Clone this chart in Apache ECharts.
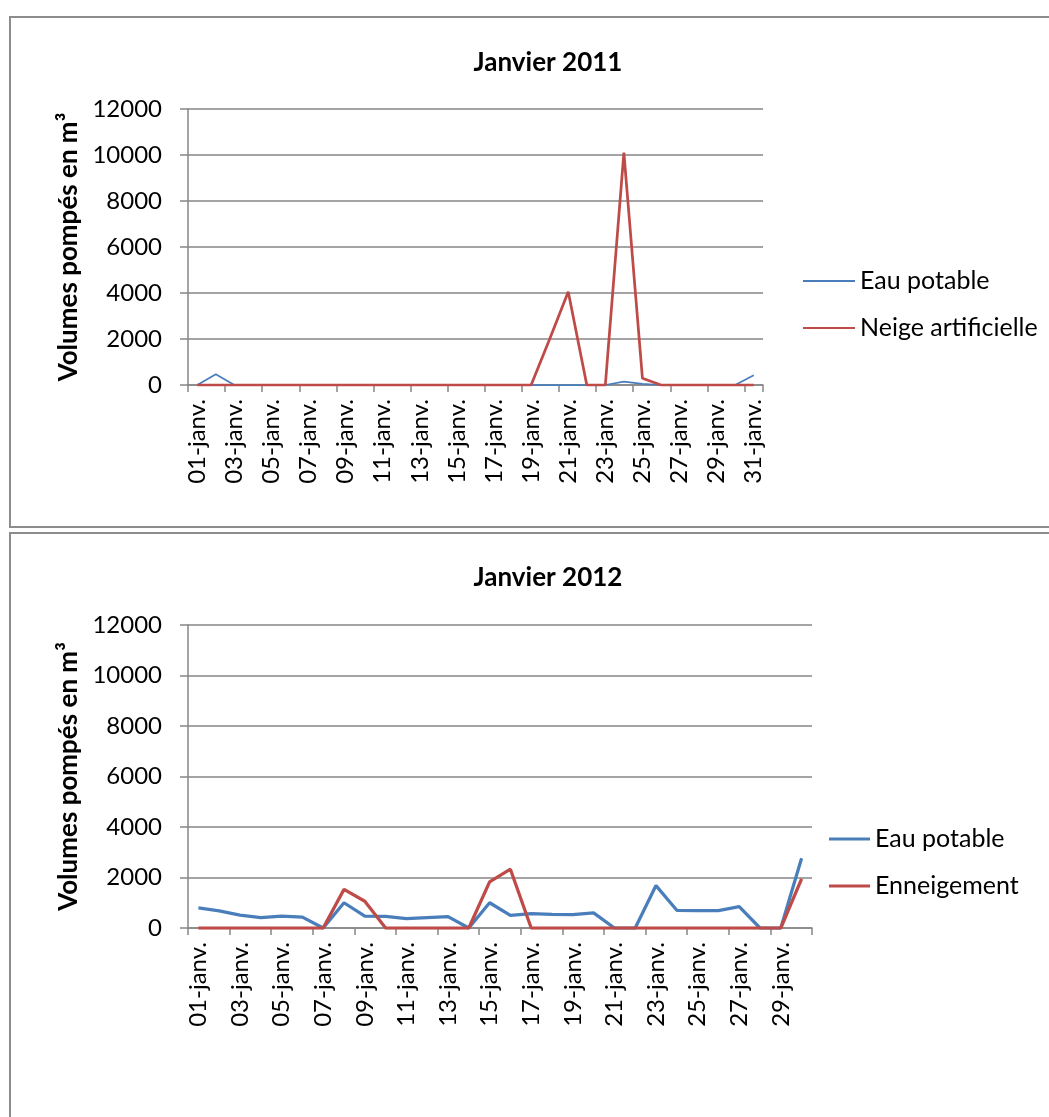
<!DOCTYPE html>
<html>
<head>
<meta charset="utf-8">
<script src="https://cdn.jsdelivr.net/npm/echarts@6/dist/echarts.min.js"></script>
<style>
  html, body { margin: 0; padding: 0; background: #ffffff; }
  #chart { width: 1049px; height: 1117px; }
</style>
</head>
<body>
<div id="chart"></div>
<script>
// Daily pumped volumes (m³), January 2011
const days2011 = ['01-janv.','02-janv.','03-janv.','04-janv.','05-janv.','06-janv.','07-janv.','08-janv.','09-janv.','10-janv.',
  '11-janv.','12-janv.','13-janv.','14-janv.','15-janv.','16-janv.','17-janv.','18-janv.','19-janv.','20-janv.',
  '21-janv.','22-janv.','23-janv.','24-janv.','25-janv.','26-janv.','27-janv.','28-janv.','29-janv.','30-janv.','31-janv.'];
const eauPotable2011 = [0, 470, 0, 0, 0, 0, 0, 0, 0, 0,
  0, 0, 0, 0, 0, 0, 0, 0, 0, 0,
  0, 0, 0, 150, 50, 0, 0, 0, 0, 0, 420];
const neige2011 = [0, 0, 0, 0, 0, 0, 0, 0, 0, 0,
  0, 0, 0, 0, 0, 0, 0, 0, 0, 2000,
  4050, 0, 0, 10100, 290, 0, 0, 0, 0, 0, 0];

// Daily pumped volumes (m³), January 2012
const days2012 = ['01-janv.','02-janv.','03-janv.','04-janv.','05-janv.','06-janv.','07-janv.','08-janv.','09-janv.','10-janv.',
  '11-janv.','12-janv.','13-janv.','14-janv.','15-janv.','16-janv.','17-janv.','18-janv.','19-janv.','20-janv.',
  '21-janv.','22-janv.','23-janv.','24-janv.','25-janv.','26-janv.','27-janv.','28-janv.','29-janv.','30-janv.'];
const eauPotable2012 = [800, 680, 510, 410, 470, 430, 0, 1000, 470, 460,
  370, 410, 450, 0, 1000, 500, 570, 540, 530, 600,
  0, 0, 1680, 700, 690, 690, 850, 0, 0, 2760];
const enneigement2012 = [0, 0, 0, 0, 0, 0, 0, 1530, 1060, 0,
  0, 0, 0, 0, 1830, 2330, 0, 0, 0, 0,
  0, 0, 0, 0, 0, 0, 0, 0, 0, 1950];

const yTicks = { min: 0, max: 12000, interval: 2000 };

const FONT = 'Lato';
const GRAY = '#868686';
const BLUE = '#4A7EBB';
const RED = '#BE4B48';
const AXIS_NAME = 'Volumes pompés en m³';

function xAxisFor(gridIndex, cats) {
  return {
    type: 'category', gridIndex, data: cats, boundaryGap: true,
    axisLine: { lineStyle: { color: GRAY, width: 1.5 } },
    axisTick: { show: true, interval: 1, length: 7, lineStyle: { color: GRAY, width: 1.5 } },
    axisLabel: { interval: 1, rotate: 90, margin: 14, color: '#000', fontFamily: FONT, fontSize: 24 },
    splitLine: { show: false }
  };
}
function yAxisFor(gridIndex) {
  return {
    type: 'value', gridIndex, min: yTicks.min, max: yTicks.max, interval: yTicks.interval,
    name: AXIS_NAME, nameLocation: 'middle', nameRotate: 90, nameGap: 60,
    nameTextStyle: { color: '#000', fontFamily: FONT, fontSize: 26, fontWeight: 'bold' },
    axisLine: { show: true, lineStyle: { color: GRAY, width: 1.5 } },
    axisTick: { show: true, length: 8, lineStyle: { color: GRAY, width: 1.5 } },
    axisLabel: { margin: 26, color: '#000', fontFamily: FONT, fontSize: 24,
      formatter: v => String(v) },
    splitLine: { show: true, lineStyle: { color: GRAY, width: 1.5 } }
  };
}
function lineSeries(name, data, color, width, idx) {
  return {
    type: 'line', name, data, xAxisIndex: idx, yAxisIndex: idx,
    symbol: 'none', showSymbol: false, animation: false,
    lineStyle: { color, width }, itemStyle: { color }
  };
}

const chart = echarts.init(document.getElementById('chart'), null, { renderer: 'canvas' });
chart.setOption({
  animation: false,
  backgroundColor: '#ffffff',
  graphic: [
    { type: 'rect', shape: { x: 10, y: 17, width: 1100, height: 510 }, style: { fill: 'none', stroke: '#8c8c8c', lineWidth: 2 } },
    { type: 'rect', shape: { x: 10, y: 533, width: 1100, height: 700 }, style: { fill: 'none', stroke: '#8c8c8c', lineWidth: 2 } }
  ],
  title: [
    { text: 'Janvier 2011', left: 543, top: 45, textAlign: 'center',
      textStyle: { fontFamily: FONT, fontSize: 26, fontWeight: 'bold', color: '#000' } },
    { text: 'Janvier 2012', left: 543, top: 560, textAlign: 'center',
      textStyle: { fontFamily: FONT, fontSize: 26, fontWeight: 'bold', color: '#000' } }
  ],
  legend: [
    { orient: 'vertical', left: 803, top: 268, padding: 0, itemWidth: 52, itemHeight: 2, itemGap: 21, icon: 'rect',
      textStyle: { fontFamily: FONT, fontSize: 25, color: '#000', lineHeight: 26 },
      data: ['Eau potable', 'Neige artificielle'] },
    { orient: 'vertical', left: 829, top: 826, padding: 0, itemWidth: 41, itemHeight: 3, itemGap: 21, icon: 'rect',
      textStyle: { fontFamily: FONT, fontSize: 25, color: '#000', lineHeight: 26 },
      data: ['Eau potable ', 'Enneigement'] }
  ],
  grid: [
    { left: 188, top: 109, width: 575, height: 276 },
    { left: 188, top: 625, width: 624, height: 303 }
  ],
  xAxis: [xAxisFor(0, days2011), xAxisFor(1, days2012)],
  yAxis: [yAxisFor(0), yAxisFor(1)],
  series: [
    lineSeries('Eau potable', eauPotable2011, BLUE, 1.75, 0),
    lineSeries('Neige artificielle', neige2011, RED, 2.75, 0),
    lineSeries('Eau potable ', eauPotable2012, BLUE, 3.25, 1),
    lineSeries('Enneigement', enneigement2012, RED, 3.25, 1)
  ]
});
</script>
</body>
</html>
